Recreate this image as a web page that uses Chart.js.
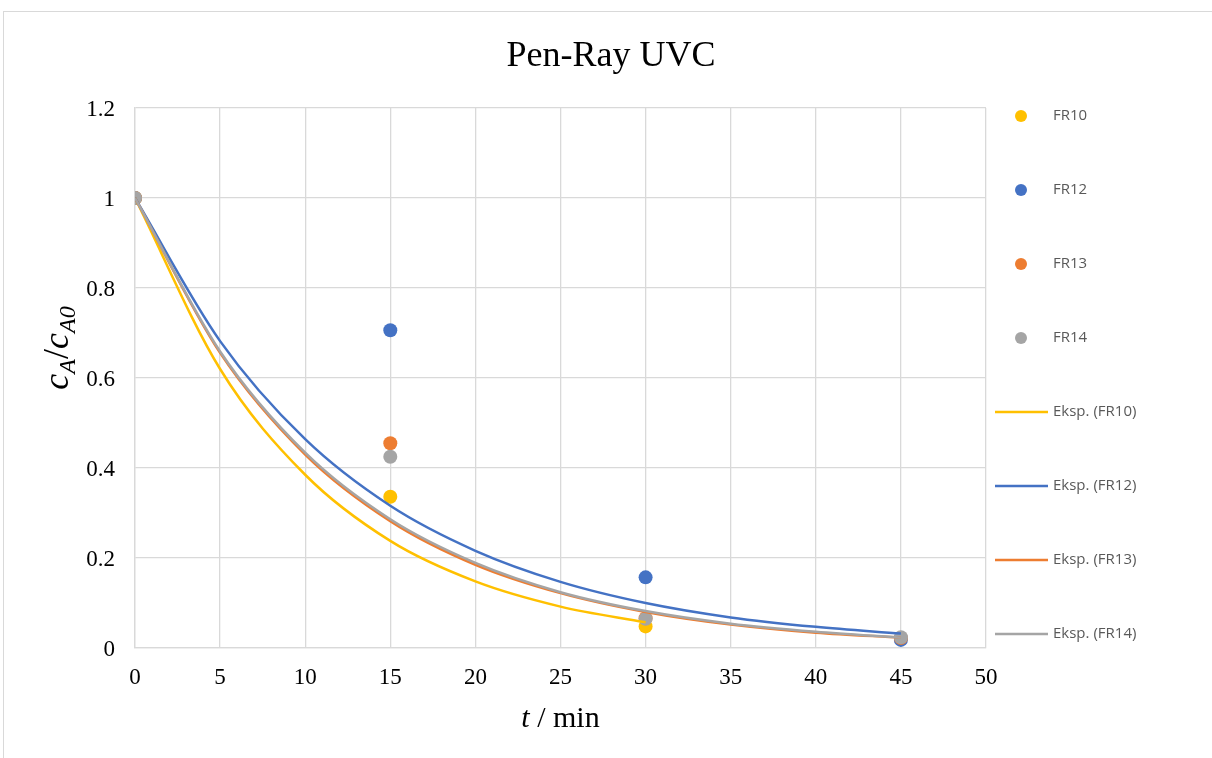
<!DOCTYPE html>
<html lang="en">
<head>
    <meta charset="UTF-8">
    <title>Pen-Ray UVC</title>
    <script src="https://cdn.jsdelivr.net/npm/chart.js"></script>
    <style>
        body { margin: 0; background: #fff; }
        canvas { display: block; }
    </style>
</head>
<body>

<canvas id="uvcChart" width="1212" height="758"></canvas>

<script>
    // measured points (t in min, cA/cA0)
    const timeMin = [0, 15, 30, 45];
    const fr10 = [1, 0.336, 0.048];
    const fr12 = [1, 0.706, 0.157, 0.018];
    const fr13 = [1, 0.455, 0.066, 0.022];
    const fr14 = [1, 0.425, 0.065, 0.024];

    // exponential trend lines, every 5 min
    const trendTime = [0, 5, 10, 15, 20, 25, 30, 35, 40, 45];
    const trendFR10 = [1, 0.620, 0.385, 0.238, 0.148, 0.092, 0.057];
    const trendFR12 = [1, 0.682, 0.464, 0.316, 0.216, 0.147, 0.100, 0.068, 0.047, 0.032];
    const trendFR13 = [1, 0.656, 0.430, 0.282, 0.185, 0.122, 0.080, 0.052, 0.034, 0.023];
    const trendFR14 = [1, 0.659, 0.434, 0.286, 0.189, 0.124, 0.082, 0.054, 0.036, 0.023];

    const seriesNames = ['FR10', 'FR12', 'FR13', 'FR14'];
    const trendNames = ['Eksp. (FR10)', 'Eksp. (FR12)', 'Eksp. (FR13)', 'Eksp. (FR14)'];
    const colors = ['#FFC000', '#4472C4', '#ED7D31', '#A5A5A5'];

    const xTicks = [0, 5, 10, 15, 20, 25, 30, 35, 40, 45, 50];
    const yTicks = [0, 0.2, 0.4, 0.6, 0.8, 1, 1.2];

    const toPoints = (xs, ys) => ys.map((y, i) => ({ x: xs[i], y: y }));

    const pointSets = [fr10, fr12, fr13, fr14].map((ys, i) => ({
        label: seriesNames[i],
        data: toPoints(timeMin, ys),
        showLine: false,
        pointRadius: 7,
        pointHoverRadius: 7,
        pointBackgroundColor: colors[i],
        pointBorderColor: colors[i],
        pointBorderWidth: 0,
        order: 8 - i
    }));

    const trendSets = [trendFR10, trendFR12, trendFR13, trendFR14].map((ys, i) => ({
        label: trendNames[i],
        data: toPoints(trendTime, ys),
        showLine: true,
        borderColor: colors[i],
        borderWidth: 2.5,
        pointRadius: 0,
        cubicInterpolationMode: 'monotone',
        order: 4 - i
    }));

    // white background + outer frame + title
    const framePlugin = {
        id: 'frame',
        beforeDraw(chart) {
            const ctx = chart.ctx;
            ctx.save();
            ctx.fillStyle = '#fff';
            ctx.fillRect(0, 0, chart.width, chart.height);
            ctx.strokeStyle = '#d9d9d9';
            ctx.lineWidth = 1;
            ctx.strokeRect(3.5, 11.5, chart.width + 10, chart.height + 10);
            ctx.fillStyle = '#000';
            ctx.font = '36px "Liberation Serif"';
            ctx.textAlign = 'center';
            ctx.textBaseline = 'alphabetic';
            ctx.fillText('Pen-Ray UVC', 611, 66);
            ctx.restore();
        }
    };

    // axis titles with italic symbols and subscripts
    const axisTitlePlugin = {
        id: 'axisTitles',
        afterDraw(chart) {
            const ctx = chart.ctx;
            const area = chart.chartArea;
            ctx.save();
            ctx.fillStyle = '#000';
            ctx.textBaseline = 'alphabetic';

            // x title: "t / min"
            const big = '30px "Liberation Serif"';
            const bigIt = 'italic 30px "Liberation Serif"';
            ctx.font = bigIt;
            const wT = ctx.measureText('t').width;
            ctx.font = big;
            const wRest = ctx.measureText(' / min').width;
            let x = (area.left + area.right) / 2 - (wT + wRest) / 2;
            ctx.font = bigIt;
            ctx.fillText('t', x, 727);
            ctx.font = big;
            ctx.fillText(' / min', x + wT, 727);

            // y title: "cA/cA0", rotated
            const parts = [
                { t: 'c', f: 'italic 36px "Liberation Serif"', dy: 0 },
                { t: 'A', f: 'italic 24px "Liberation Serif"', dy: 7 },
                { t: '/', f: '36px "Liberation Serif"', dy: 0 },
                { t: 'c', f: 'italic 36px "Liberation Serif"', dy: 0 },
                { t: 'A0', f: 'italic 24px "Liberation Serif"', dy: 7 }
            ];
            let total = 0;
            parts.forEach(p => { ctx.font = p.f; p.w = ctx.measureText(p.t).width; total += p.w; });
            ctx.translate(68, 348);
            ctx.rotate(-Math.PI / 2);
            let px = -total / 2;
            parts.forEach(p => {
                ctx.font = p.f;
                ctx.fillText(p.t, px, p.dy);
                px += p.w;
            });
            ctx.restore();
        }
    };

    // legend on the right, Excel style spacing
    const legendPlugin = {
        id: 'sideLegend',
        afterDraw(chart) {
            const ctx = chart.ctx;
            ctx.save();
            ctx.font = '15px "Open Sans"';
            ctx.textBaseline = 'middle';
            const labels = seriesNames.concat(trendNames);
            labels.forEach((txt, i) => {
                const y = 116 + i * 74;
                const c = colors[i % 4];
                if (i < 4) {
                    ctx.beginPath();
                    ctx.arc(1021, y, 6, 0, Math.PI * 2);
                    ctx.fillStyle = c;
                    ctx.fill();
                } else {
                    ctx.beginPath();
                    ctx.moveTo(995, y);
                    ctx.lineTo(1048, y);
                    ctx.strokeStyle = c;
                    ctx.lineWidth = 2.5;
                    ctx.stroke();
                }
                ctx.fillStyle = '#595959';
                ctx.fillText(txt, 1053, y);
            });
            ctx.restore();
        }
    };

    new Chart(document.getElementById('uvcChart'), {
        type: 'scatter',
        data: { datasets: pointSets.concat(trendSets) },
        options: {
            responsive: false,
            animation: false,
            devicePixelRatio: 1,
            layout: { padding: { left: 0, right: 226, top: 108, bottom: 0 } },
            plugins: {
                legend: { display: false },
                tooltip: { enabled: false },
                title: { display: false }
            },
            scales: {
                x: {
                    type: 'linear',
                    min: 0,
                    max: 50,
                    afterFit: s => { s.height = 110; },
                    afterBuildTicks: s => { s.ticks = xTicks.map(v => ({ value: v })); },
                    ticks: {
                        color: '#000',
                        padding: 16,
                        font: { family: 'Liberation Serif', size: 23 }
                    },
                    grid: { color: '#d9d9d9', lineWidth: 1.3, drawTicks: false },
                    border: { color: '#d9d9d9', width: 1.3 }
                },
                y: {
                    min: 0,
                    max: 1.2,
                    afterFit: s => { s.width = 135; },
                    afterBuildTicks: s => { s.ticks = yTicks.map(v => ({ value: v })); },
                    ticks: {
                        color: '#000',
                        padding: 20,
                        labelOffset: 2,
                        font: { family: 'Liberation Serif', size: 23 },
                        callback: v => String(v)
                    },
                    grid: { color: '#d9d9d9', lineWidth: 1.3, drawTicks: false },
                    border: { color: '#d9d9d9', width: 1.3 }
                }
            }
        },
        plugins: [framePlugin, axisTitlePlugin, legendPlugin]
    });
</script>

</body>
</html>
